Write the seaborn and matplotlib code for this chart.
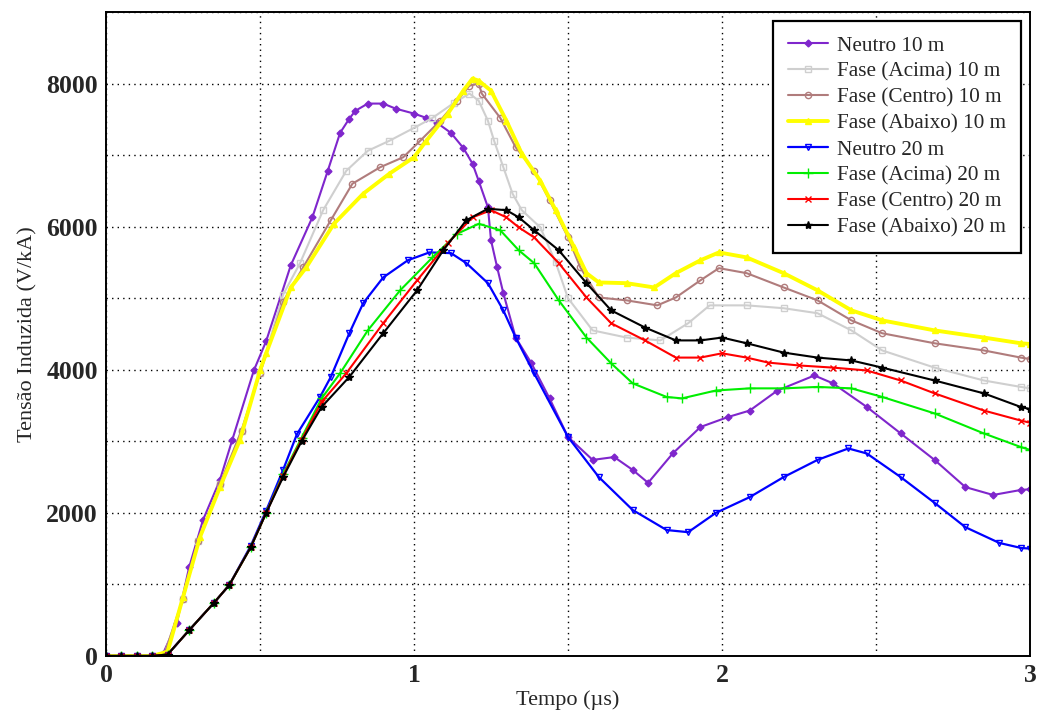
import matplotlib
matplotlib.use("Agg")
import matplotlib.pyplot as plt
import seaborn as sns
import pandas as pd
from matplotlib.ticker import MultipleLocator

# ---- data ----
t_neutro10 = [0, 0.05, 0.1, 0.15, 0.185, 0.23, 0.27, 0.315, 0.37, 0.41, 0.48, 0.52, 0.60, 0.67, 0.72, 0.76,
              0.79, 0.81, 0.85, 0.90, 0.94, 1.0, 1.04, 1.075, 1.12, 1.16, 1.19, 1.21, 1.24, 1.25, 1.27, 1.29,
              1.33, 1.38, 1.44, 1.50, 1.58, 1.65, 1.71, 1.76, 1.84, 1.93, 2.02, 2.09, 2.18, 2.30, 2.36,
              2.47, 2.58, 2.69, 2.79, 2.88, 2.97, 3.0]
v_neutro10 = [0, 0, 0, 0, 30, 460, 1240, 1900, 2460, 3020, 3990, 4400, 5460, 6130, 6780, 7310,
              7510, 7620, 7720, 7720, 7650, 7580, 7520, 7450, 7310, 7100, 6880, 6640, 6270, 5810, 5430, 5070,
              4450, 4100, 3600, 3060, 2740, 2780, 2600, 2420, 2830, 3200, 3340, 3430, 3710, 3920, 3810,
              3480, 3110, 2740, 2360, 2250, 2320, 2330]

t_acima10 = [0, 0.05, 0.1, 0.15, 0.19, 0.25, 0.3, 0.37, 0.44, 0.5, 0.575, 0.63, 0.705, 0.78, 0.85, 0.92,
             1.0, 1.06, 1.13, 1.18, 1.21, 1.24, 1.26, 1.29, 1.32, 1.35, 1.41, 1.46, 1.50, 1.58, 1.69,
             1.80, 1.89, 1.96, 2.08, 2.20, 2.31, 2.42, 2.52, 2.69, 2.85, 2.97, 3.0]
v_acima10 = [0, 0, 0, 0, 30, 800, 1600, 2400, 3150, 3950, 5050, 5490, 6230, 6780, 7060, 7200,
             7380, 7520, 7730, 7860, 7760, 7480, 7200, 6830, 6460, 6230, 5990, 5500, 5000, 4550, 4450,
             4410, 4650, 4900, 4900, 4860, 4790, 4550, 4270, 4030, 3850, 3760, 3740]

t_centro10 = [0, 0.05, 0.1, 0.15, 0.19, 0.25, 0.3, 0.37, 0.44, 0.5, 0.575, 0.64, 0.73, 0.80, 0.89, 0.965,
              1.02, 1.085, 1.14, 1.18, 1.21, 1.22, 1.28, 1.33, 1.39, 1.44, 1.50, 1.54, 1.60, 1.69, 1.79,
              1.85, 1.93, 1.99, 2.08, 2.20, 2.31, 2.42, 2.52, 2.69, 2.85, 2.97, 3.0]
v_centro10 = [0, 0, 0, 0, 30, 800, 1600, 2400, 3150, 3950, 4950, 5430, 6090, 6600, 6830, 6970,
              7200, 7480, 7760, 7970, 8000, 7860, 7520, 7110, 6780, 6370, 5850, 5430, 5010, 4970, 4900,
              5010, 5250, 5420, 5350, 5150, 4970, 4690, 4510, 4370, 4270, 4170, 4150]

t_abaixo10 = [0, 0.05, 0.1, 0.15, 0.2, 0.25, 0.305, 0.37, 0.435, 0.5, 0.52, 0.60, 0.65, 0.74, 0.835, 0.92,
              1.0, 1.04, 1.11, 1.16, 1.19, 1.21, 1.25, 1.30, 1.35, 1.41, 1.46, 1.52, 1.56, 1.60, 1.69,
              1.78, 1.85, 1.93, 1.99, 2.08, 2.20, 2.31, 2.42, 2.52, 2.69, 2.85, 2.97, 3.0]
v_abaixo10 = [0, 0, 0, 0, 60, 820, 1660, 2360, 3020, 3990, 4230, 5150, 5430, 6040, 6460, 6740,
              6970, 7200, 7580, 7900, 8070, 8040, 7900, 7480, 7020, 6640, 6230, 5710, 5350, 5220, 5210,
              5150, 5350, 5530, 5640, 5570, 5350, 5110, 4830, 4690, 4550, 4450, 4370, 4360]

t_neutro20 = [0, 0.05, 0.1, 0.15, 0.2, 0.27, 0.35, 0.40, 0.47, 0.52, 0.575, 0.62, 0.695, 0.73, 0.79, 0.835,
              0.90, 0.98, 1.05, 1.12, 1.17, 1.24, 1.29, 1.33, 1.39, 1.50, 1.60, 1.71, 1.82, 1.89, 1.98,
              2.09, 2.20, 2.31, 2.41, 2.47, 2.58, 2.69, 2.79, 2.90, 2.97, 3.0]
v_neutro20 = [0, 0, 0, 0, 20, 360, 740, 990, 1540, 2030, 2600, 3100, 3620, 3900, 4510, 4930,
              5290, 5530, 5640, 5630, 5490, 5210, 4830, 4450, 3950, 3060, 2500, 2040, 1760, 1730, 2000,
              2220, 2500, 2740, 2900, 2830, 2500, 2140, 1800, 1580, 1510, 1500]

t_acima20 = [0, 0.05, 0.1, 0.15, 0.2, 0.27, 0.35, 0.40, 0.47, 0.52, 0.575, 0.635, 0.70, 0.76, 0.85, 0.955,
             1.06, 1.14, 1.21, 1.28, 1.34, 1.39, 1.47, 1.56, 1.64, 1.71, 1.82, 1.87, 1.98, 2.09, 2.20,
             2.31, 2.42, 2.52, 2.69, 2.85, 2.97, 3.0]
v_acima20 = [0, 0, 0, 0, 20, 360, 740, 990, 1520, 2000, 2540, 3050, 3600, 3950, 4550, 5110,
             5570, 5900, 6040, 5950, 5670, 5490, 4970, 4450, 4090, 3810, 3620, 3600, 3710, 3740, 3740,
             3760, 3740, 3620, 3390, 3110, 2920, 2880]

t_centro20 = [0, 0.05, 0.1, 0.15, 0.2, 0.27, 0.35, 0.40, 0.47, 0.52, 0.575, 0.635, 0.70, 0.78, 0.90, 1.01,
              1.11, 1.19, 1.25, 1.30, 1.34, 1.39, 1.47, 1.56, 1.64, 1.75, 1.85, 1.93, 2.0, 2.08, 2.15,
              2.25, 2.36, 2.47, 2.58, 2.69, 2.85, 2.97, 3.0]
v_centro20 = [0, 0, 0, 0, 20, 360, 740, 990, 1520, 2000, 2520, 3020, 3550, 3950, 4650, 5250,
              5770, 6130, 6230, 6130, 5990, 5850, 5490, 5010, 4650, 4410, 4170, 4170, 4230, 4170, 4100,
              4060, 4030, 3990, 3850, 3670, 3430, 3290, 3260]

t_abaixo20 = [0, 0.05, 0.1, 0.15, 0.2, 0.27, 0.35, 0.40, 0.47, 0.52, 0.575, 0.635, 0.70, 0.79, 0.90, 1.01,
              1.095, 1.17, 1.24, 1.30, 1.34, 1.39, 1.47, 1.56, 1.64, 1.75, 1.85, 1.93, 2.0, 2.08, 2.20,
              2.31, 2.42, 2.52, 2.69, 2.85, 2.97, 3.0]
v_abaixo20 = [0, 0, 0, 0, 20, 360, 740, 990, 1520, 2000, 2500, 3000, 3480, 3900, 4510, 5110,
              5670, 6090, 6250, 6230, 6130, 5950, 5670, 5210, 4830, 4590, 4410, 4410, 4450, 4370, 4240,
              4170, 4130, 4030, 3850, 3670, 3480, 3450]

labels = ["Neutro 10 m", "Fase (Acima) 10 m", "Fase (Centro) 10 m", "Fase (Abaixo) 10 m",
          "Neutro 20 m", "Fase (Acima) 20 m", "Fase (Centro) 20 m", "Fase (Abaixo) 20 m"]
series_t = [t_neutro10, t_acima10, t_centro10, t_abaixo10, t_neutro20, t_acima20, t_centro20, t_abaixo20]
series_v = [v_neutro10, v_acima10, v_centro10, v_abaixo10, v_neutro20, v_acima20, v_centro20, v_abaixo20]

x_ticks = [0, 1, 2, 3]
y_ticks = [0, 2000, 4000, 6000, 8000]

# ---- styles ----
styles = [
    dict(color="#7F26CC", marker="D", ms=3.5, mfc="#7F26CC", lw=1.5),
    dict(color="#CFCFCF", marker="s", ms=4.5, mfc="none", lw=1.5),
    dict(color="#B07C7C", marker="o", ms=4.5, mfc="none", lw=1.5),
    dict(color="#FFFF00", marker="^", ms=4.5, mfc="#FFFF00", lw=2.8),
    dict(color="#0000FF", marker="v", ms=5, mfc="none", lw=1.6),
    dict(color="#00EE00", marker="+", ms=7, mfc="none", lw=1.5),
    dict(color="#FF0000", marker="x", ms=5, mfc="none", lw=1.5),
    dict(color="#000000", marker="*", ms=6, mfc="#000000", lw=1.5),
]

sns.set_style("white")
plt.rcParams["font.family"] = ["Liberation Serif", "DejaVu Serif"]

fig = plt.figure(figsize=(10.37, 7.18), dpi=100)
ax = fig.add_axes([0.1022, 0.0864, 0.8911, 0.8969])

frames = []
for lab, tt, vv in zip(labels, series_t, series_v):
    frames.append(pd.DataFrame({"t": tt, "v": vv, "serie": lab}))
df = pd.concat(frames, ignore_index=True)

for lab, st in zip(labels, styles):
    sub = df[df["serie"] == lab]
    sns.lineplot(data=sub, x="t", y="v", ax=ax, label=lab, estimator=None, sort=True,
                 color=st["color"], linewidth=st["lw"], marker=st["marker"],
                 markersize=st["ms"], markerfacecolor=st["mfc"],
                 markeredgecolor=st["color"], markeredgewidth=1.0)

ax.set_xlim(0, 3)
ax.set_ylim(0, 9000)
ax.set_xticks(x_ticks)
ax.set_yticks(y_ticks)
ax.xaxis.set_minor_locator(MultipleLocator(0.5))
ax.yaxis.set_minor_locator(MultipleLocator(1000))
ax.grid(True, which="both", color="black", linestyle=(0, (1, 3)), linewidth=1.0)
ax.set_axisbelow(True)
ax.tick_params(axis="both", which="major", labelsize=18.5, direction="in", length=4, width=1)
ax.tick_params(axis="x", which="major", pad=6)
ax.tick_params(axis="y", which="major", pad=6)
ax.tick_params(axis="both", which="minor", direction="in", length=2)
for lbl in ax.get_xticklabels() + ax.get_yticklabels():
    lbl.set_fontweight("bold")
for sp in ax.spines.values():
    sp.set_color("black")
    sp.set_linewidth(1.4)

ax.set_xlabel("Tempo (\u00b5s)", fontsize=16, labelpad=2)
ax.set_ylabel("Tensão Induzida (V/kA)", fontsize=16, labelpad=6)

leg = ax.legend(loc="upper right", bbox_to_anchor=(1.0, 1.0), fontsize=15.3, frameon=True,
                fancybox=False, edgecolor="black", framealpha=1, handlelength=1.9,
                handletextpad=0.42, borderpad=0.7, labelspacing=0.29, borderaxespad=0.42)
leg.get_frame().set_linewidth(1.6)

fig.savefig("out.png", dpi=100)
